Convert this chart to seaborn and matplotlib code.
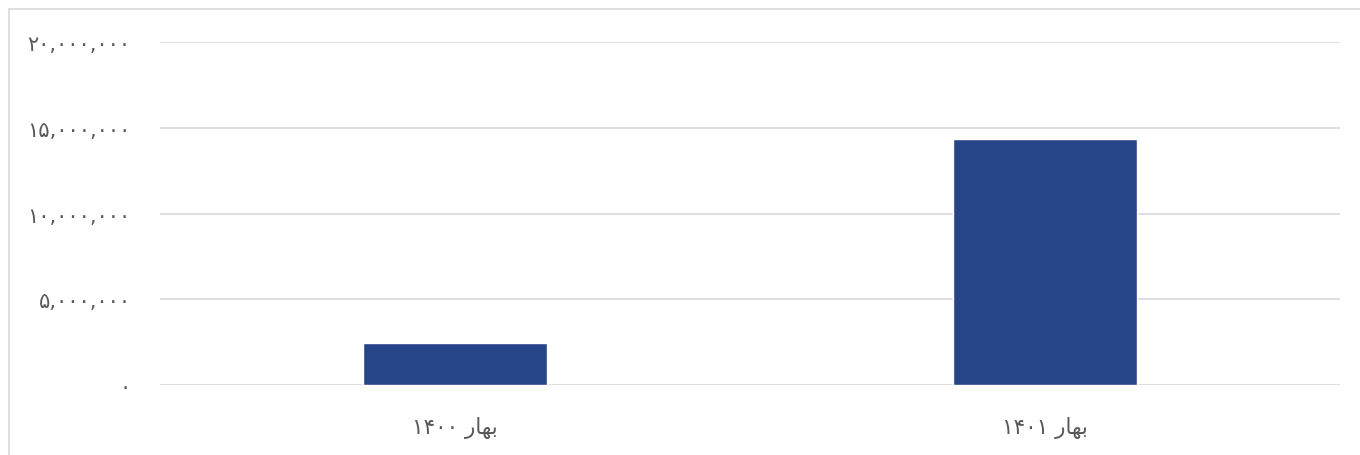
import matplotlib
matplotlib.use("Agg")
import matplotlib.pyplot as plt
import seaborn as sns
import pandas as pd
from matplotlib.lines import Line2D
from matplotlib.ticker import FuncFormatter

# Data
categories = ["بهار ۱۴۰۰", "بهار ۱۴۰۱"]
values = [2450000, 14360000]
y_ticks = [0, 5000000, 10000000, 15000000, 20000000]

PERSIAN_DIGITS = str.maketrans("0123456789", "۰۱۲۳۴۵۶۷۸۹")

# matplotlib has no Arabic shaping / bidi, so give the visual form of the word
SHAPED = {"بهار": "\ufead\ufe8e\ufeec\ufe91"}


def visual(label):
    # RTL: reverse word order, shape Arabic words, keep digit runs as they are
    words = label.split(" ")
    return " ".join(SHAPED.get(w, w) for w in reversed(words))


def fa_number(v, pos=None):
    return f"{int(v):,}".translate(PERSIAN_DIGITS)


df = pd.DataFrame({"category": categories, "value": values})

sns.set_style("white")
plt.rcParams["font.family"] = ["DejaVu Sans"]

fig = plt.figure(figsize=(13.6, 4.56), dpi=100)
ax = fig.add_axes([0.1176, 0.1535, 0.8677, 0.7522])

sns.barplot(data=df, x="category", y="value", color="#264589", width=0.313,
            saturation=1, ax=ax, zorder=3)

ax.set_xlim(-0.5, 1.5)
ax.set_ylim(0, 20000000)
ax.set_yticks(y_ticks)
ax.yaxis.set_major_formatter(FuncFormatter(fa_number))
ax.set_xticks(range(len(categories)))
ax.set_xticklabels([visual(c) for c in categories])
ax.grid(axis="y", color="#d9d9d9", linewidth=1.2, zorder=0)
ax.set_axisbelow(True)
for s in ax.spines.values():
    s.set_visible(False)
ax.tick_params(axis="y", length=0, labelsize=15, labelcolor="#595959", pad=21)
ax.tick_params(axis="x", length=0, labelsize=15.5, labelcolor="#595959", pad=22)
ax.set_xlabel("")
ax.set_ylabel("")

# light border on the left and top of the chart area
x0, y0 = 8.5 / 1360, 1 - 9.5 / 456
fig.add_artist(Line2D([x0, x0], [0, y0], transform=fig.transFigure,
                      color="#d9d9d9", linewidth=1.2))
fig.add_artist(Line2D([x0, 1], [y0, y0], transform=fig.transFigure,
                      color="#d9d9d9", linewidth=1.2))

fig.savefig("out.png", dpi=100)
